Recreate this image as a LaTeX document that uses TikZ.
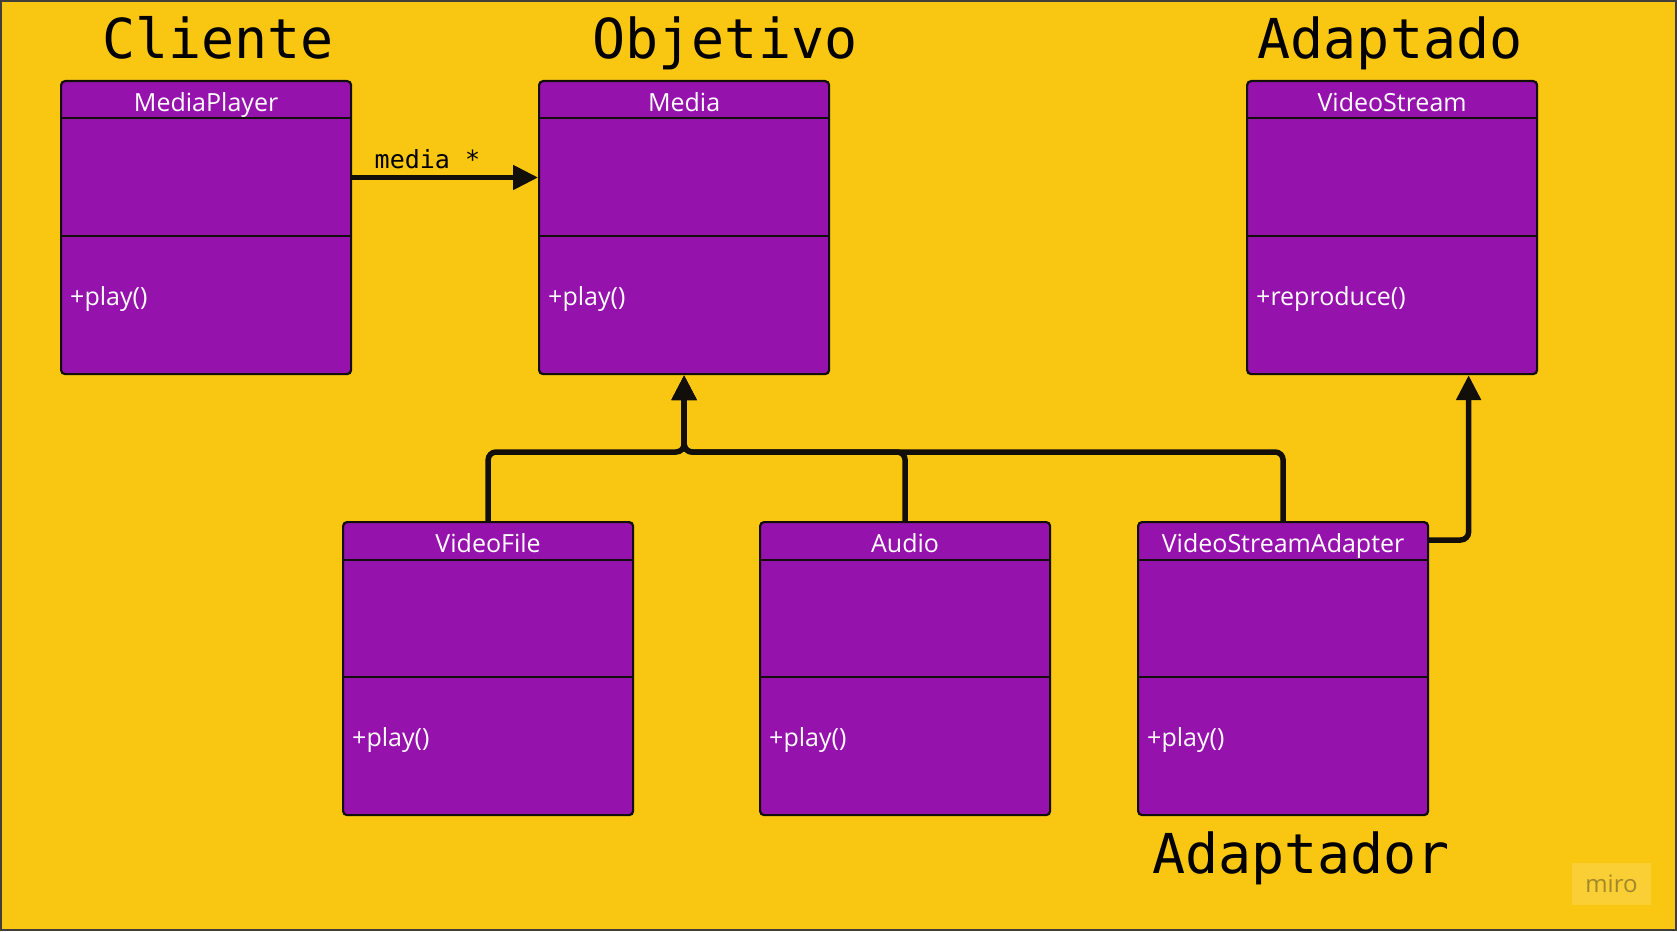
\documentclass[tikz,border=0pt]{standalone}
\usepackage{fontspec}
\setmainfont{Open Sans}
\newfontfamily\monofont{DejaVu Sans Mono}
\usepackage{tikz}
\usetikzlibrary{arrows.meta}
\usetikzlibrary{positioning}
\definecolor{bgyellow}{RGB}{249,199,18}
\definecolor{umlpurple}{RGB}{150,18,172}
\definecolor{umledge}{RGB}{18,14,10}
\tikzset{classbox/.style = {draw=umledge, line width=2.2pt, fill=umlpurple,
                            rounded corners=4pt, minimum width=290pt,
                            minimum height=293pt, inner sep=0pt}}
\tikzset{classtext/.style = {text=white, font=\fontsize{25}{30}\selectfont,
                             inner sep=0pt}}
\tikzset{rolename/.style = {font=\monofont\fontsize{55}{60}\selectfont,
                            anchor=base, inner sep=0pt}}
\tikzset{assoc/.style = {line width=5pt, draw=umledge,
                         -{Triangle[length=25pt, width=24pt]}}}
\tikzset{inherit/.style = {line width=5.5pt, draw=umledge, rounded corners=8pt,
                           -{Triangle[length=25pt, width=24pt]}}}
% class box: name, top left corner, title, method
\newcommand{\umlclass}[4]{
  \node [classbox, anchor=north west] (#1) at (#2) {};
  \draw [umledge, line width=2pt] ([yshift=-38.5pt]#1.north west) -- ([yshift=-38.5pt]#1.north east);
  \draw [umledge, line width=2pt] ([yshift=-156pt]#1.north west) -- ([yshift=-156pt]#1.north east);
  \node [classtext, anchor=base] (#1-title) at ([yshift=-31.5pt]#1.north) {#3};
  \node [classtext, anchor=base west] (#1-op) at ([xshift=10pt, yshift=-225pt]#1.north west) {#4};
}

\begin{document}
\begin{tikzpicture}[x=1pt, y=-1pt]
    \fill [bgyellow] (0, 0) rectangle (1677, 931);
    \draw [umledge!80, line width=2pt] (1, 1) rectangle (1676, 930);
    \useasboundingbox (0, 0) rectangle (1677, 931);

    \node [rolename] (cliente) at (218, 59) {Cliente};
    \node [rolename] (objetivo) at (725, 59) {Objetivo};
    \node [rolename] (adaptado) at (1390, 59) {Adaptado};
    \node [rolename] (adaptador) at (1301, 873) {Adaptador};

    \umlclass{player}{60, 80}{MediaPlayer}{+play()}
    \umlclass{media}{538, 80}{Media}{+play()}
    \umlclass{stream}{1246, 80}{VideoStream}{+reproduce()}
    \umlclass{file}{342, 521}{VideoFile}{+play()}
    \umlclass{audio}{759, 521}{Audio}{+play()}
    \umlclass{adapter}{1137, 521}{VideoStreamAdapter}{+play()}

    \coordinate (fork) at (media.south |- 0, 452);

    \draw [assoc] ([yshift=-97.5pt]player.north east) -- ([yshift=-97.5pt]media.north west)
        node [pos=0, anchor=base west, xshift=20pt, yshift=9.5pt, inner sep=0pt,
              font=\monofont\fontsize{25}{30}\selectfont] {media *};
    \draw [inherit] (file.north) |- (fork) -- (media.south);
    \draw [inherit] (audio.north) |- (fork) -- (media.south);
    \draw [inherit] (adapter.north) |- (fork) -- (media.south);
    \draw [inherit] ([yshift=-19pt]adapter.north east) -| ([xshift=76.5pt]stream.south);

    \node [fill=white, fill opacity=0.15, minimum width=79pt, minimum height=42pt,
           inner sep=0pt] (miro) at (1611.5, 884) {};
    \node [text=black!30!bgyellow!75!gray, font=\fontsize{24}{28}\selectfont,
           inner sep=0pt, anchor=base] (mirotext) at (1611.5, 892) {miro};
  \end{tikzpicture}
\end{document}
